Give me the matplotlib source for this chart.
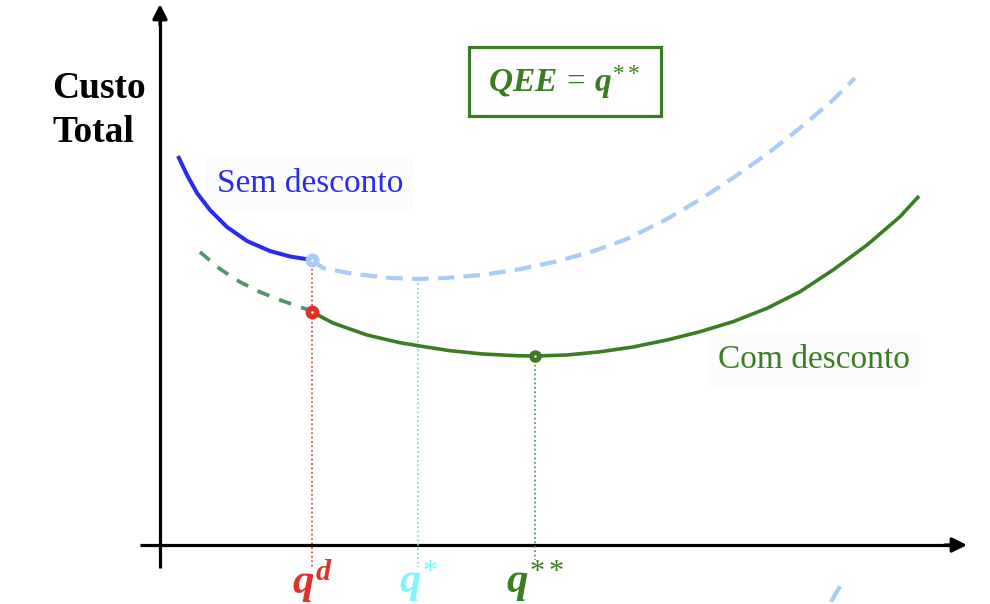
import matplotlib.pyplot as plt

plt.rcParams['mathtext.fontset'] = 'custom'
plt.rcParams['mathtext.it'] = 'Liberation Serif:bold:italic'
plt.rcParams['mathtext.rm'] = 'Liberation Serif'
plt.rcParams['mathtext.bf'] = 'Liberation Serif:bold'

# curves (q = quantity, c = total cost)
q_sem = [18, 27, 37, 50, 67, 87, 110, 130, 152]
c_sem = [389, 370, 352, 335, 318, 304, 294, 288.5, 285]

q_sem_ext = [152, 163, 194, 231, 258, 285, 322, 358, 394, 431, 467, 507,
             540, 573, 607, 640, 673, 695]
c_sem_ext = [285, 277, 271, 267, 266, 267, 270, 275.5, 283, 293, 306, 326,
             345.5, 367, 391, 417, 445, 467]

q_com_dash = [40, 60, 80, 100, 120, 140, 152]
c_com_dash = [293, 276, 263, 253, 245, 238, 234]

q_com = [152, 173, 207, 240, 258, 290, 323, 357, 375, 407, 440, 473, 507,
         540, 573, 607, 640, 673, 707, 740, 759]
c_com = [233, 222, 210, 202.3, 199.3, 194.3, 191, 189.3, 189, 190, 193.2,
         198, 205, 213.3, 223.3, 236.7, 253.3, 275, 300, 328.3, 349]

# marked quantities
q_d, c_d_sem, c_d_com = 152, 285, 233
q_star, c_star = 258, 266
q_2star, c_2star = 375, 189

q_labels = ['$q^{d}$', '$q^{*}$', '$q^{**}$']

stray_q = [672, 679]
stray_c = [-55, -43]

blue = '#2b2bef'
light_blue = '#a8cbf7'
green = '#3b7d23'
green_dash = '#52966a'
red = '#e0302a'
cyan = '#6fd3dc'

fig = plt.figure(figsize=(9.9, 6.04), dpi=100)
ax = fig.add_axes([0, 0, 1, 1])
ax.set_xlim(-160, 830)
ax.set_ylim(-59, 545)
ax.axis('off')

# axes with arrows
ax.plot([0, 0], [-23, 530], color='black', lw=2.3, solid_capstyle='butt')
ax.annotate('', xy=(0, 541), xytext=(0, 520),
            arrowprops=dict(arrowstyle='-|>', color='black', lw=2.3,
                            mutation_scale=22, shrinkA=0, shrinkB=0))
ax.plot([-20, 795], [0, 0], color='black', lw=2.3, solid_capstyle='butt')
ax.annotate('', xy=(807, 0), xytext=(785, 0),
            arrowprops=dict(arrowstyle='-|>', color='black', lw=2.3,
                            mutation_scale=22, shrinkA=0, shrinkB=0))

# dotted guides
ax.plot([q_d, q_d], [c_d_sem, -22], color=red, lw=1.2, ls=':')
ax.plot([q_star, q_star], [c_star, -22], color=cyan, lw=1.2, ls=':')
ax.plot([q_2star, q_2star], [c_2star, -15], color='#3f8a50', lw=1.2, ls=':')

# curves
ax.plot(q_sem_ext, c_sem_ext, color=light_blue, lw=3, dashes=(4, 2.2))
ax.plot(stray_q, stray_c, color=light_blue, lw=3)
ax.plot(q_sem, c_sem, color=blue, lw=2.9, solid_capstyle='butt',
        solid_joinstyle='round')
ax.plot(q_com_dash, c_com_dash, color=green_dash, lw=2.7, dashes=(3.4, 2.8))
ax.plot(q_com, c_com, color=green, lw=2.6, solid_capstyle='butt',
        solid_joinstyle='round')

# points
ax.plot([q_d], [c_d_sem], 'o', color=light_blue, ms=9, zorder=5)
ax.plot([q_d], [c_d_com], 'o', color=red, ms=9, zorder=5)
ax.plot([q_2star], [c_2star], 'o', color=green, ms=8, zorder=5)
ax.plot([q_d, q_d, q_2star], [c_d_sem, c_d_com, c_2star], '.',
        color='white', ms=1.5, zorder=6)

# quantity labels
for q, lab, col in zip([q_d, q_star, q_2star], q_labels, [red, '#80f4ff', green]):
    ax.text(q, -48, lab, color=col, fontsize=31, ha='center', va='baseline')

ax.text(-108, 447, 'Custo', fontsize=27, fontweight='bold',
        family='Liberation Serif', ha='left', va='baseline', zorder=1)
ax.text(-108, 403, 'Total', fontsize=27, fontweight='bold',
        family='Liberation Serif', ha='left', va='baseline', zorder=1)
ax.text(57, 353, 'Sem desconto', fontsize=24, color=blue,
        family='Liberation Serif', ha='left', va='baseline', zorder=1,
        bbox=dict(facecolor='#fcfcfc', edgecolor='none', pad=8))
ax.text(558, 177, 'Com desconto', fontsize=24, color=green,
        family='Liberation Serif', ha='left', va='baseline', zorder=1,
        bbox=dict(facecolor='#fcfcfc', edgecolor='none', pad=8))

ax.text(404, 453, r'$QEE\,=\,q^{**}$', fontsize=24, color=green,
        ha='center', va='baseline')
ax.add_patch(plt.Rectangle((309, 429), 192, 69, fill=False,
                           edgecolor=green, lw=2.3))

fig.savefig('out.png', dpi=100)
